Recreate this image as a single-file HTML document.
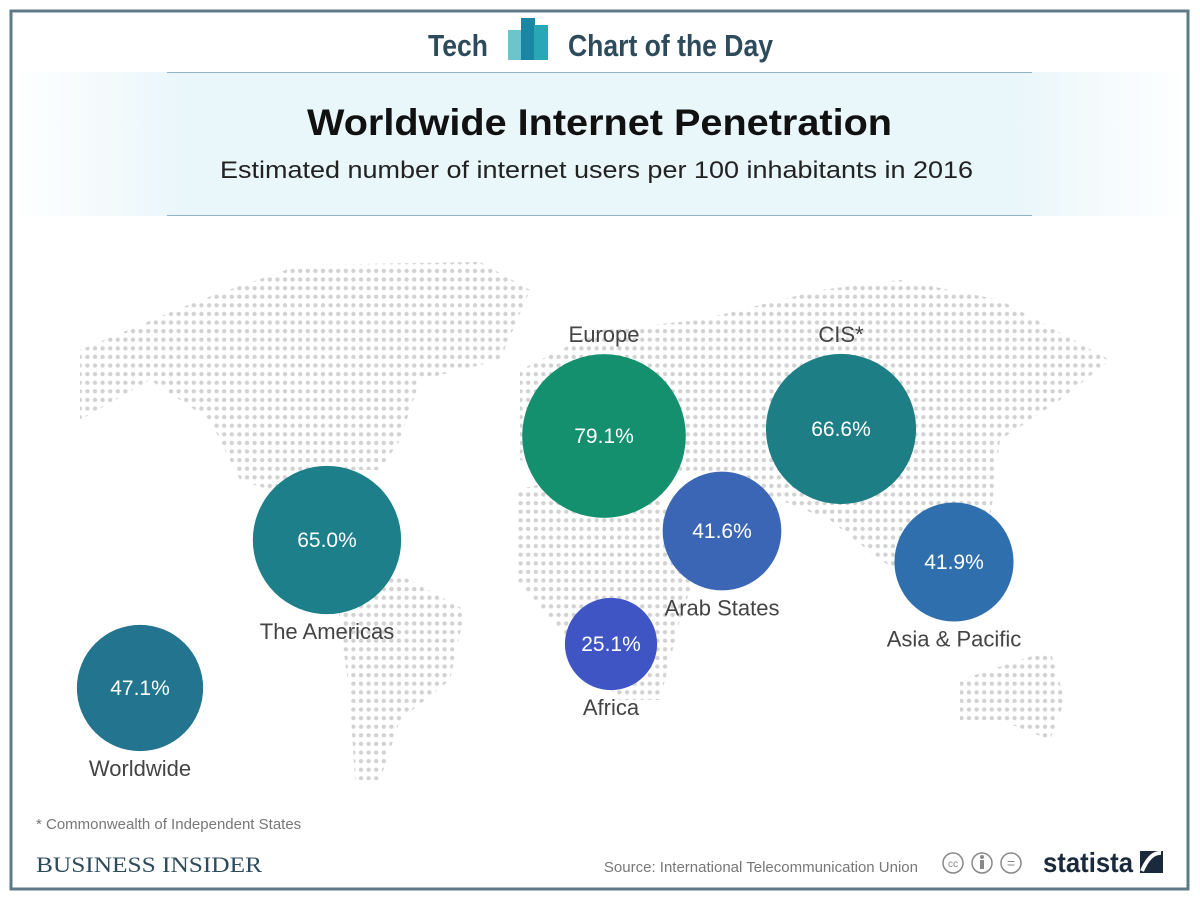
<!DOCTYPE html>
<html><head><meta charset="utf-8"><style>
body{margin:0;width:1200px;height:900px;background:#fff;font-family:"Liberation Sans",sans-serif;overflow:hidden}
</style></head><body>
<svg width="1200" height="900">
<defs>
<pattern id="dots" width="7.6" height="8.6" patternUnits="userSpaceOnUse"><circle cx="3.8" cy="4.3" r="2.2" fill="#d2d2d2"/></pattern>
<linearGradient id="hdr" x1="0" x2="1"><stop offset="0" stop-color="#fff"/><stop offset="0.15" stop-color="#e9f6fa"/><stop offset="0.85" stop-color="#e9f6fa"/><stop offset="1" stop-color="#fff"/></linearGradient>
<clipPath id="land">
<polygon points="80,350 200,300 300,265 480,262 530,290 500,360 420,380 400,440 380,470 340,470 300,500 240,480 210,420 150,380 80,420"/>
<polygon points="330,560 400,575 465,610 450,680 400,720 380,780 355,780 350,700 340,620"/>
<polygon points="520,370 600,330 700,320 820,290 900,280 1000,300 1110,360 1060,400 1000,440 990,520 950,600 880,560 830,520 780,500 700,470 600,480 520,460"/>
<polygon points="515,490 560,480 660,500 700,560 680,620 660,700 620,700 570,640 515,580"/>
<polygon points="960,680 1050,650 1065,700 1050,740 1000,720 960,720"/>
</clipPath>
</defs>
<text x="428" y="56" font-size="31" font-weight="bold" fill="#2e4b5c" textLength="60" lengthAdjust="spacingAndGlyphs">Tech</text>
<g><rect x="508" y="30" width="14" height="30" fill="#6cc4cc"/><rect x="521" y="18" width="14" height="42" fill="#1b86a4"/><rect x="534" y="25" width="14" height="35" fill="#28a7b5"/></g>
<text x="568" y="56" font-size="31" font-weight="bold" fill="#2e4b5c" textLength="205" lengthAdjust="spacingAndGlyphs">Chart of the Day</text>
<rect x="12" y="72" width="1175" height="144" fill="url(#hdr)"/>
<line x1="167" y1="72.5" x2="1032" y2="72.5" stroke="#8fb3c0"/>
<line x1="167" y1="215.5" x2="1032" y2="215.5" stroke="#8fb3c0"/>
<text x="307" y="135" font-size="37" font-weight="bold" fill="#111" textLength="585" lengthAdjust="spacingAndGlyphs">Worldwide Internet Penetration</text>
<text x="220" y="178" font-size="24" fill="#222" textLength="753" lengthAdjust="spacingAndGlyphs">Estimated number of internet users per 100 inhabitants in 2016</text>
<rect x="0" y="240" width="1200" height="560" fill="url(#dots)" clip-path="url(#land)"/>
<g id="bubbles"></g>
<rect x="11" y="11" width="1177" height="878" fill="none" stroke="#5f7a87" stroke-width="3"/>
<text x="36" y="829" font-size="15" fill="#777">* Commonwealth of Independent States</text>
<text x="36" y="872" font-size="22" fill="#2e4b5c" font-family="Liberation Serif,serif" textLength="226" lengthAdjust="spacingAndGlyphs">BUSINESS INSIDER</text>
<text x="918" y="872" font-size="15" fill="#777" text-anchor="end">Source: International Telecommunication Union</text>
<g fill="none" stroke="#888" stroke-width="1.5"><circle cx="953" cy="863" r="10"/><circle cx="982" cy="863" r="10"/><circle cx="1011" cy="863" r="10"/></g>
<text x="953" y="867" font-size="10" fill="#888" text-anchor="middle">cc</text>
<circle cx="982" cy="857" r="2" fill="#888"/><rect x="980" y="860" width="4" height="9" fill="#888"/>
<text x="1011" y="868" font-size="14" fill="#888" text-anchor="middle">=</text>
<text x="1043" y="872" font-size="28" font-weight="bold" fill="#1b2a3a" textLength="90" lengthAdjust="spacingAndGlyphs">statista</text>
<rect x="1140" y="851" width="23" height="22" fill="#1b2a3a"/>
<path d="M1142 871 Q1150 852 1161 853" stroke="#fff" stroke-width="4" fill="none"/>
</svg>
<script>
const regions=["Europe","CIS*","The Americas","Worldwide","Arab States","Asia & Pacific","Africa"];
const values=[79.1,66.6,65.0,47.1,41.6,41.9,25.1];
const cx=[604,841,327,140,722,954,611];
const cy=[436,429,540,688,531,562,644];
const colors=["#14906f","#1d7f85","#1d7f8a","#22748f","#3b66b5","#2f6fae","#3f55c4"];
const labelAbove=[true,true,false,false,false,false,false];
const ns="http://www.w3.org/2000/svg";
const g=document.getElementById("bubbles");
function rScale(v){return 9.2*Math.sqrt(v);}
regions.forEach((n,i)=>{
 const r=rScale(values[i]);
 const c=document.createElementNS(ns,"circle");
 c.setAttribute("cx",cx[i]);c.setAttribute("cy",cy[i]);c.setAttribute("r",r);c.setAttribute("fill",colors[i]);
 
 
 g.appendChild(c);
 const t=document.createElementNS(ns,"text");
 t.setAttribute("x",cx[i]);t.setAttribute("y",cy[i]+7);t.setAttribute("text-anchor","middle");
 t.setAttribute("font-size","21");t.setAttribute("fill","#fff");
 t.textContent=values[i].toFixed(1)+"%";
 
 
 g.appendChild(t);
 const l=document.createElementNS(ns,"text");
 l.setAttribute("x",cx[i]);
 l.setAttribute("y",labelAbove[i]?cy[i]-r-12:cy[i]+r+25);
 l.setAttribute("text-anchor","middle");l.setAttribute("font-size","22");l.setAttribute("fill","#444");
 l.textContent=n;
 
 
 g.appendChild(l);
});
</script>
</body></html>
